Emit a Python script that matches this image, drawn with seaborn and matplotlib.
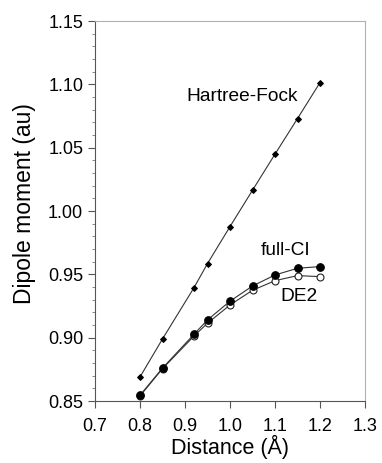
import pandas as pd
import matplotlib
matplotlib.use("Agg")
import matplotlib.pyplot as plt
import seaborn as sns
from matplotlib.ticker import MultipleLocator

# ----- Data ----------------------------------------------------------------
distance = [0.80, 0.85, 0.92, 0.95, 1.00, 1.05, 1.10, 1.15, 1.20]
hartree_fock = [0.869, 0.899, 0.9395, 0.9585, 0.9877, 1.0164, 1.0449, 1.073, 1.1014]
full_ci = [0.8545, 0.876, 0.9027, 0.9140, 0.9288, 0.9408, 0.9495, 0.9548, 0.9561]
de2 = [0.8540, 0.8755, 0.9013, 0.9114, 0.9258, 0.9374, 0.9450, 0.9490, 0.9482]

x_ticks = [0.7, 0.8, 0.9, 1.0, 1.1, 1.2, 1.3]
y_ticks = [0.85, 0.90, 0.95, 1.00, 1.05, 1.10, 1.15]

# ----- Style -----------------------------------------------------------------
sns.set_style("ticks", {"text.color": "black", "xtick.color": "black",
                        "ytick.color": "black", "axes.labelcolor": "black"})
plt.rcParams["font.family"] = ["Liberation Sans", "DejaVu Sans"]

fig = plt.figure(figsize=(3.82, 4.63), dpi=100)
ax = fig.add_axes([0.2487, 0.1339, 0.7068, 0.8207])

line_kw = dict(color="#333333", linewidth=0.8, ax=ax)

sns.lineplot(x=distance, y=hartree_fock, marker="D", markersize=3,
             markerfacecolor="black", markeredgecolor="black", **line_kw)
sns.lineplot(x=distance, y=de2, marker="o", markersize=5,
             markerfacecolor="white", markeredgecolor="#222222",
             markeredgewidth=0.8, **line_kw)
sns.lineplot(x=distance, y=full_ci, marker="o", markersize=5.5,
             markerfacecolor="black", markeredgecolor="black", **line_kw)

# ----- Labels on the curves -------------------------------------------------
ax.text(1.028, 1.0904, "Hartree-Fock", fontsize=13.8, ha="center", va="center")
ax.text(1.124, 0.9687, "full-CI", fontsize=13.8, ha="center", va="center")
ax.text(1.153, 0.9324, "DE2", fontsize=13.8, ha="center", va="center")

# ----- Axes -----------------------------------------------------------------
ax.set_xlim(0.7, 1.3)
ax.set_ylim(0.85, 1.15)
ax.set_xticks(x_ticks)
ax.set_xticklabels([f"{v:.1f}" for v in x_ticks])
ax.set_yticks(y_ticks)
ax.set_yticklabels([f"{v:.2f}" for v in y_ticks])
ax.yaxis.set_minor_locator(MultipleLocator(0.01))

ax.tick_params(axis="both", which="major", direction="out", length=5,
               width=0.8, color="#555555", labelsize=13, labelcolor="black")
ax.tick_params(axis="x", which="major", pad=7)
ax.tick_params(axis="y", which="major", pad=3.5)
ax.tick_params(axis="y", which="minor", direction="out", length=2.5,
               width=0.6, color="#777777")

ax.set_xlabel("Distance (Å)", fontsize=15.5, labelpad=0.5)
ax.set_ylabel("Dipole moment (au)", fontsize=16.5)
ax.yaxis.set_label_coords(-0.22, 0.52)

for side in ["left", "bottom"]:
    ax.spines[side].set_color("#555555")
    ax.spines[side].set_linewidth(0.8)
for side in ["top", "right"]:
    ax.spines[side].set_visible(True)
    ax.spines[side].set_color("#b0b0b0")
    ax.spines[side].set_linewidth(0.8)

fig.savefig("out.png", dpi=100)
plt.close(fig)
